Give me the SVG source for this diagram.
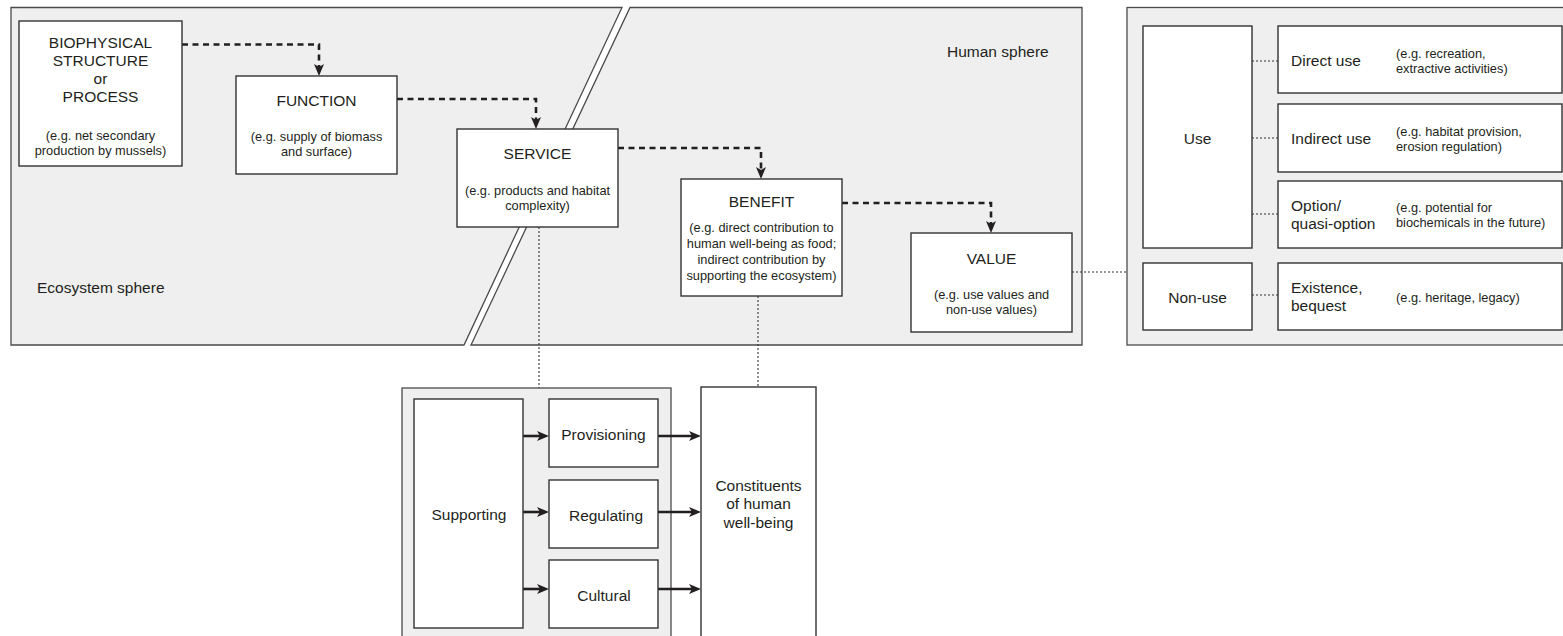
<svg xmlns="http://www.w3.org/2000/svg" width="1563" height="636" viewBox="0 0 1563 636">
<style>
  .panel { fill: #efefef; stroke: #4a4a4a; stroke-width: 1.3; }
  .box { fill: #ffffff; stroke: #333333; stroke-width: 1.4; }
  text { font-family: "Liberation Sans", Arial, Helvetica, sans-serif; fill: #231f20; dominant-baseline: central; }
  .lbl { font-size: 15.5px; text-anchor: middle; }
  .lbll { font-size: 15.5px; text-anchor: start; }
  .sub { font-size: 12.8px; text-anchor: middle; }
  .subl { font-size: 12.8px; text-anchor: start; }
  .dash { fill: none; stroke: #231f20; stroke-width: 2.6; stroke-dasharray: 6 4.5; marker-end: url(#ah); }
  .dot { fill: none; stroke: #333333; stroke-width: 1.1; stroke-dasharray: 2 2; }
  .solid { fill: none; stroke: #231f20; stroke-width: 2.6; marker-end: url(#ah); }
</style>
<defs>
  <marker id="ah" viewBox="0 0 12 10" refX="7" refY="5" markerWidth="12" markerHeight="10" markerUnits="userSpaceOnUse" orient="auto">
    <path d="M0,0 L12,5 L0,10 L3,5 z" fill="#231f20"/>
  </marker>
</defs>

<g id="spheres">
  <polygon class="panel" points="11,7.5 622,7.5 464,345 11,345"/>
  <polygon class="panel" points="630,7.5 1082,7.5 1082,345 471,345"/>
  <text class="lbll" x="37" y="287">Ecosystem sphere</text>
  <text class="lbll" x="947" y="51">Human sphere</text>
</g>

<g id="value-panel">
  <rect class="panel" x="1127" y="7.5" width="450" height="337.5"/>
</g>
<g id="services-panel">
  <rect class="panel" x="402" y="388" width="269" height="260"/>
</g>

<g id="connectors">
  <path class="dash" d="M182,44.5 H319 V71"/>
  <path class="dash" d="M397,99 H536 V124"/>
  <path class="dash" d="M618,148 H761 V174"/>
  <path class="dash" d="M842,203 H991 V228"/>
  <path class="dot" d="M539,227 V388"/>
  <path class="dot" d="M758,296 V387"/>
  <path class="dot" d="M1072,272 H1127"/>
  <path class="dot" d="M1252,61 H1278"/>
  <path class="dot" d="M1252,138 H1278"/>
  <path class="dot" d="M1252,214 H1278"/>
  <path class="dot" d="M1252,295 H1278"/>
  <path class="solid" d="M523,436 H544"/>
  <path class="solid" d="M523,512 H544"/>
  <path class="solid" d="M523,589 H544"/>
  <path class="solid" d="M658,436 H696"/>
  <path class="solid" d="M658,512 H696"/>
  <path class="solid" d="M658,589 H696"/>
</g>

<g id="biophysical">
  <rect class="box" x="19" y="21" width="163" height="145"/>
  <text class="lbl" x="100.5" y="42">BIOPHYSICAL</text>
  <text class="lbl" x="100.5" y="60">STRUCTURE</text>
  <text class="lbl" x="100.5" y="78">or</text>
  <text class="lbl" x="100.5" y="96.5">PROCESS</text>
  <text class="sub" x="100.5" y="135">(e.g. net secondary</text>
  <text class="sub" x="100.5" y="150.5">production by mussels)</text>
</g>

<g id="function">
  <rect class="box" x="236" y="76" width="161" height="98"/>
  <text class="lbl" x="316.5" y="100">FUNCTION</text>
  <text class="sub" x="316.5" y="136">(e.g. supply of biomass</text>
  <text class="sub" x="316.5" y="151.5">and surface)</text>
</g>

<g id="service">
  <rect class="box" x="457" y="129" width="161" height="98"/>
  <text class="lbl" x="537.5" y="153">SERVICE</text>
  <text class="sub" x="537.5" y="190">(e.g. products and habitat</text>
  <text class="sub" x="537.5" y="205.5">complexity)</text>
</g>

<g id="benefit">
  <rect class="box" x="681" y="179" width="161" height="117"/>
  <text class="lbl" x="761.5" y="201">BENEFIT</text>
  <text class="sub" x="761.5" y="227">(e.g. direct contribution to</text>
  <text class="sub" x="761.5" y="243">human well-being as food;</text>
  <text class="sub" x="761.5" y="259">indirect contribution by</text>
  <text class="sub" x="761.5" y="275">supporting the ecosystem)</text>
</g>

<g id="value">
  <rect class="box" x="911" y="233" width="161" height="99"/>
  <text class="lbl" x="991.5" y="258">VALUE</text>
  <text class="sub" x="991.5" y="294">(e.g. use values and</text>
  <text class="sub" x="991.5" y="309.5">non-use values)</text>
</g>

<g id="use">
  <rect class="box" x="1143" y="26" width="109" height="222"/>
  <text class="lbl" x="1197.5" y="138">Use</text>
</g>
<g id="non-use">
  <rect class="box" x="1143" y="263" width="109" height="67"/>
  <text class="lbl" x="1197.5" y="297">Non-use</text>
</g>
<g id="direct-use">
  <rect class="box" x="1278" y="26" width="284" height="67"/>
  <text class="lbll" x="1291" y="60">Direct use</text>
  <text class="subl" x="1396" y="53">(e.g. recreation,</text>
  <text class="subl" x="1396" y="68">extractive activities)</text>
</g>
<g id="indirect-use">
  <rect class="box" x="1278" y="104" width="284" height="68"/>
  <text class="lbll" x="1291" y="138">Indirect use</text>
  <text class="subl" x="1396" y="131">(e.g. habitat provision,</text>
  <text class="subl" x="1396" y="146">erosion regulation)</text>
</g>
<g id="option">
  <rect class="box" x="1278" y="181" width="284" height="67"/>
  <text class="lbll" x="1291" y="205">Option/</text>
  <text class="lbll" x="1291" y="223">quasi-option</text>
  <text class="subl" x="1396" y="207">(e.g. potential for</text>
  <text class="subl" x="1396" y="222.5">biochemicals in the future)</text>
</g>
<g id="existence">
  <rect class="box" x="1278" y="263" width="284" height="67"/>
  <text class="lbll" x="1291" y="287">Existence,</text>
  <text class="lbll" x="1291" y="305">bequest</text>
  <text class="subl" x="1396" y="297">(e.g. heritage, legacy)</text>
</g>

<g id="supporting">
  <rect class="box" x="414" y="399" width="109" height="229"/>
  <text class="lbl" x="469" y="514">Supporting</text>
</g>
<g id="provisioning">
  <rect class="box" x="549" y="399" width="109" height="68"/>
  <text class="lbl" x="603.5" y="434">Provisioning</text>
</g>
<g id="regulating">
  <rect class="box" x="549" y="480" width="109" height="68"/>
  <text class="lbl" x="606" y="515.5">Regulating</text>
</g>
<g id="cultural">
  <rect class="box" x="549" y="560" width="109" height="68"/>
  <text class="lbl" x="604" y="595">Cultural</text>
</g>
<g id="constituents">
  <rect class="box" x="701" y="387" width="115" height="270"/>
  <text class="lbl" x="758.5" y="485">Constituents</text>
  <text class="lbl" x="758.5" y="503.5">of human</text>
  <text class="lbl" x="758.5" y="522">well-being</text>
</g>
</svg>
